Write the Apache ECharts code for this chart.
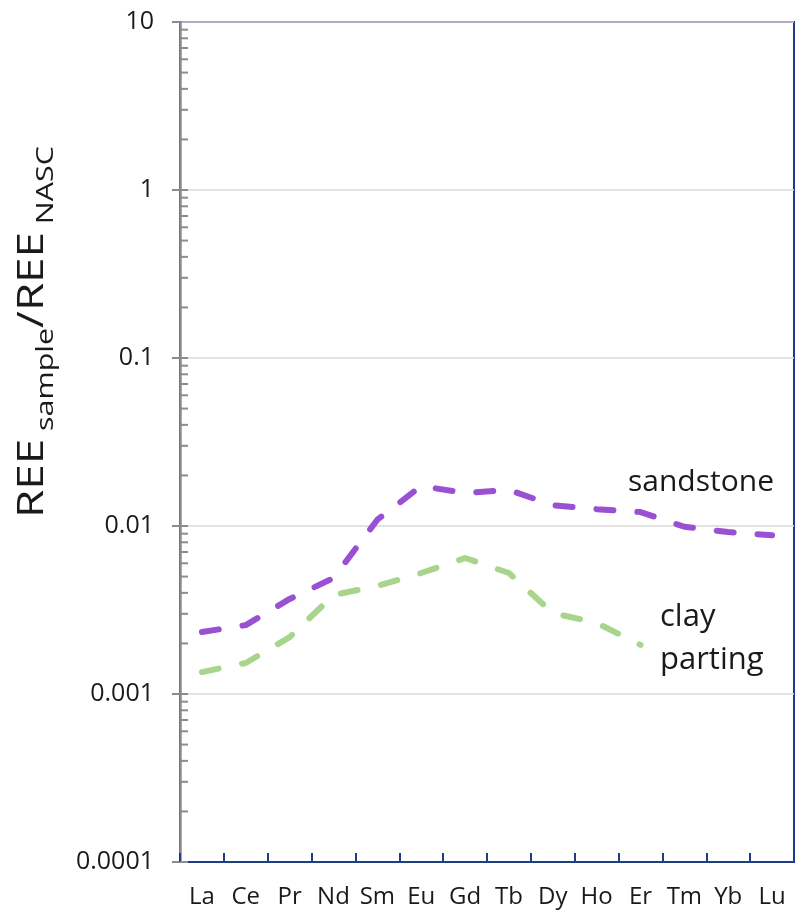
<!DOCTYPE html>
<html>
<head>
<meta charset="utf-8">
<title>REE normalized to NASC</title>
<script src="https://cdn.jsdelivr.net/npm/echarts@6/dist/echarts.min.js"></script>
<style>
  html, body { margin: 0; padding: 0; background: #fff; }
  #chart { width: 797px; height: 919px; }
</style>
</head>
<body>
<div id="chart"></div>
<script>
// Rare earth elements, in order
const elements = ['La', 'Ce', 'Pr', 'Nd', 'Sm', 'Eu', 'Gd', 'Tb', 'Dy', 'Ho', 'Er', 'Tm', 'Yb', 'Lu'];

// REE sample / REE NASC ratios
const sandstone = [0.00234, 0.00257, 0.00368, 0.0049, 0.0109, 0.0173, 0.0157, 0.0164, 0.0133, 0.0126, 0.0121, 0.0099, 0.0092, 0.0088];
const clayParting = [0.00135, 0.00153, 0.00218, 0.00388, 0.0044, 0.00525, 0.00645, 0.00525, 0.00303, 0.00265, 0.00196, null, null, null];

// Log axis: decades and the minor multipliers between them
const yMin = 0.0001;
const yMax = 10;
const minorSteps = [1, 2, 3, 4, 5, 6, 7, 8, 9];

const NAVY = '#1F3A86';
const AXIS_GRAY = '#8C8C8C';
const TEXT = '#1a1a1a';
const FONT = '"Open Sans", "Noto Sans", sans-serif';

// inner tick positions on the log axis (decades and 2..9 multiples)
const innerTicks = [];
for (let e = Math.log10(yMin); e < Math.log10(yMax); e++) {
  minorSteps.forEach(m => innerTicks.push([0, Number((m * Math.pow(10, e)).toPrecision(2))]));
}

const chart = echarts.init(document.getElementById('chart'), null, { renderer: 'canvas' });

chart.setOption({
  animation: false,
  backgroundColor: '#ffffff',
  grid: {
    left: 180, right: 3, top: 22, bottom: 57,
    show: true, borderColor: NAVY, borderWidth: 2, backgroundColor: 'transparent'
  },
  xAxis: {
    type: 'category',
    data: elements,
    boundaryGap: true,
    axisLine: { lineStyle: { color: NAVY, width: 2 } },
    axisTick: { show: true, inside: true, length: 9, lineStyle: { color: NAVY, width: 2 } },
    axisLabel: { color: TEXT, fontSize: 24, fontFamily: FONT, margin: 23, interval: 0 },
    splitLine: { show: false }
  },
  yAxis: {
    type: 'log',
    logBase: 10,
    min: yMin,
    max: yMax,
    axisLine: { show: true, lineStyle: { color: AXIS_GRAY, width: 2.5 } },
    axisTick: { show: true, inside: false, length: 8, lineStyle: { color: AXIS_GRAY, width: 2 } },
    axisLabel: {
      color: TEXT, fontSize: 25, fontFamily: FONT, margin: 26,
      formatter: v => String(Number(Number(v).toPrecision(1)))
    },
    splitLine: { show: true, lineStyle: { color: '#D9D9D9', width: 1.5 } }
  },
  graphic: [
    {
      // axis title: REE sample / REE NASC, with lowered subscripts
      type: 'text',
      x: 33, y: 332,
      rotation: Math.PI / 2,
      scaleX: 1.27,
      style: {
        text: '{b|REE}{s| sample}{b|/REE}{s| NASC}',
        align: 'center',
        verticalAlign: 'middle',
        fill: TEXT,
        fontFamily: FONT,
        rich: {
          b: { fontSize: 36, fontFamily: FONT, lineHeight: 36, verticalAlign: 'top' },
          s: { fontSize: 24, fontFamily: FONT, lineHeight: 24, verticalAlign: 'top', padding: [19, 0, 0, 0] }
        }
      }
    },
    {
      type: 'text', x: 628, y: 482,
      style: { text: 'sandstone', fontSize: 30, fontFamily: FONT, fill: TEXT, verticalAlign: 'middle' }
    },
    {
      type: 'text', x: 660, y: 617,
      style: { text: 'clay', fontSize: 31, fontFamily: FONT, fill: TEXT, verticalAlign: 'middle' }
    },
    {
      type: 'text', x: 660, y: 660,
      style: { text: 'parting', fontSize: 31, fontFamily: FONT, fill: TEXT, verticalAlign: 'middle' }
    }
  ],
  series: [
    {
      name: 'inner ticks',
      type: 'custom',
      silent: true,
      clip: false,
      z: 5,
      data: innerTicks,
      encode: { x: 0, y: 1 },
      renderItem: (params, api) => {
        const y = api.coord([0, api.value(1)])[1];
        const x0 = params.coordSys.x;
        return {
          type: 'line',
          shape: { x1: x0, y1: y, x2: x0 + 8, y2: y },
          style: { stroke: AXIS_GRAY, lineWidth: 2 }
        };
      }
    },
    {
      name: 'sandstone',
      type: 'line',
      data: sandstone,
      symbol: 'none',
      smooth: false,
      z: 3,
      lineStyle: { color: '#9A50D3', width: 6, type: [17, 24], cap: 'round', join: 'round' }
    },
    {
      name: 'clay parting',
      type: 'line',
      data: clayParting,
      symbol: 'none',
      smooth: false,
      connectNulls: false,
      z: 3,
      lineStyle: { color: '#A8D48C', width: 6, type: [17, 24], cap: 'round', join: 'round' }
    }
  ]
});
</script>
</body>
</html>
